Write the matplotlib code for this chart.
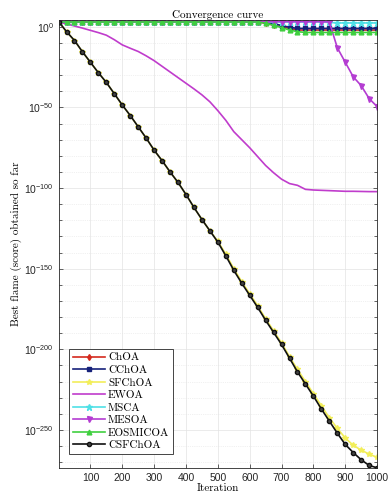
import matplotlib
matplotlib.use("Agg")
import matplotlib.pyplot as plt
from matplotlib.ticker import FixedLocator, LogFormatterSciNotation, NullFormatter
import numpy as np

plt.rcParams['font.family'] = ['Liberation Sans', 'DejaVu Sans']

# iteration at which each stored point (and marker) sits
iters = [1] + list(range(25, 1001, 25))

# best score per algorithm, stored as log10 values
choa = [3.0, 3.0, 3.0, 3.0, 3.0, 3.0, 3.0, 3.0, 3.0, 3.0, 3.0, 3.0, 3.0, 3.0,
        3.0, 3.0, 3.0, 3.0, 3.0, 3.0, 3.0, 3.0, 3.0, 3.0, 3.0, 3.0, 2.2, 1.0,
        0.0, -1.0, -2.0, -2.0, -2.0, -2.0, -2.0, -2.0, -2.0, -2.0, -2.0, -2.0, -2.0]
cchoa = [3.0, 3.0, 3.0, 3.0, 3.0, 3.0, 3.0, 3.0, 3.0, 3.0, 3.0, 3.0, 3.0, 3.0,
         3.0, 3.0, 3.0, 3.0, 3.0, 3.0, 3.0, 3.0, 3.0, 3.0, 3.0, 3.0, 2.8, 2.0,
         0.8, -0.3, -1.0, -1.0, -1.0, -1.0, -1.0, -1.0, -1.0, -1.0, -1.0, -1.0, -1.0]
sfchoa = [3, -3, -8.5, -15.5, -22, -28.5, -34.5, -41.5, -48.5, -55, -62, -69,
          -76.5, -83, -90, -96.5, -104, -112, -119.5, -126.5, -133, -141, -150,
          -158, -165.5, -173, -181, -188.5, -196, -204.5, -212.5, -220, -227.5,
          -235, -242.5, -249, -255, -259.5, -262.5, -265, -267]
ewoa = [3, 1.8, 0.5, -0.8, -2.2, -3.6, -5.2, -8, -11.2, -13.3, -15.3, -18, -21,
        -24.5, -28, -31.5, -35, -38.5, -42.2, -46.5, -52, -58, -65, -70, -75,
        -80.5, -86, -90.5, -94.5, -97.2, -98.3, -100.8, -101.2, -101.4, -101.6,
        -101.8, -102, -102, -102.1, -102.2, -102.2]
msca = [3.0, 3.0, 3.0, 3.0, 3.0, 3.0, 3.0, 3.0, 3.0, 3.0, 3.0, 3.0, 3.0, 3.0,
        3.0, 3.0, 3.0, 3.0, 3.0, 3.0, 3.0, 3.0, 3.0, 3.0, 3.0, 3.0, 3.0, 3.0,
        3.0, 3.0, 3.0, 3.0, 3.0, 3.0, 2.7, 2.4, 2.4, 2.4, 2.4, 2.4, 2.4]
mesoa = [3.2, 3.2, 3.2, 3.2, 3.2, 3.2, 3.2, 3.2, 3.2, 3.2, 3.2, 3.2, 3.2, 3.2,
         3.2, 3.2, 3.2, 3.2, 3.2, 3.2, 3.2, 3.2, 3.2, 3.2, 3.2, 3.2, 3.2, 3.2,
         3.2, 3.2, 3.2, 3.2, 3.2, 3.2, 3.0, -13, -22, -31, -36.5, -44.5, -49.5]
eosmicoa = [3.0, 3.0, 3.0, 3.0, 3.0, 3.0, 3.0, 3.0, 3.0, 3.0, 3.0, 3.0, 3.0,
            3.0, 3.0, 3.0, 3.0, 3.0, 3.0, 3.0, 3.0, 3.0, 3.0, 3.0, 3.0, 3.0,
            2.3, 1.0, -0.5, -2.0, -3.0, -3.5, -3.5, -3.5, -3.5, -3.5, -3.5,
            -3.5, -3.5, -3.5, -3.5]
csfchoa = [3, -3, -8.5, -15.5, -22, -28.5, -34.5, -41.5, -48.5, -55, -62, -69,
           -76.5, -83, -90, -96.5, -104, -112, -119.5, -126.5, -133.5, -142,
           -151, -159, -166.5, -174, -182, -189.5, -197, -205.5, -214, -221.5,
           -229, -237, -244.5, -252, -259, -264, -268.5, -272, -273.5]

names = ['ChOA', 'CChOA', 'SFChOA', 'EWOA', 'MSCA', 'MESOA', 'EOSMICOA', 'CSFChOA']
series = [choa, cchoa, sfchoa, ewoa, msca, mesoa, eosmicoa, csfchoa]
colors = ['#d42a1e', '#16217a', '#f2ee5a', '#c03ccc', '#4fe0e6', '#b43cd2', '#3fcf3f', '#111111']
markers = ['d', 's', '*', None, '*', 'v', '^', 'o']
msizes = [3.0, 2.6, 4.0, 0, 4.5, 3.6, 3.4, 3.0]

fig = plt.figure(figsize=(3.9, 4.97), dpi=100)
ax = fig.add_axes([0.151, 0.058, 0.816, 0.902])

for name, vals, c, m, ms in zip(names, series, colors, markers, msizes):
    y = 10.0 ** np.array(vals)
    if m is None:
        ax.plot(iters, y, color=c, lw=1.2, label=name)
    else:
        face = '#444444' if name == 'CSFChOA' else c
        ax.plot(iters, y, color=c, lw=1.2, marker=m, ms=ms,
                mfc=face, mec=c, label=name)

ax.set_yscale('log')
ax.set_xlim(1, 1000)
ax.set_ylim(10.0 ** -273.7, 10.0 ** 4.3)
ax.set_xticks(range(100, 1001, 100))
ax.yaxis.set_major_locator(FixedLocator(10.0 ** np.arange(-250, 1, 50)))
ax.yaxis.set_minor_locator(FixedLocator(10.0 ** np.arange(-270, 1, 10)))
ax.yaxis.set_major_formatter(LogFormatterSciNotation())
ax.yaxis.set_minor_formatter(NullFormatter())

ax.tick_params(which='both', direction='in', top=True, right=True,
               labelsize=7.5, labelcolor='#262626', color='#262626')
ax.tick_params(which='major', length=3, width=0.5)
ax.tick_params(which='minor', length=2, width=0.5)
for s in ax.spines.values():
    s.set_linewidth(0.6)
    s.set_color('#262626')

ax.grid(True, which='major', color='#e3e3e3', lw=0.5)
ax.grid(True, which='minor', axis='y', color='#e3e3e3', lw=0.5, ls=':')
ax.set_axisbelow(True)

serif = 'cmr10'
ax.set_title('Convergence curve', fontsize=8, family=serif, pad=1.5)
ax.set_xlabel('Iteration', fontsize=8, family=serif, labelpad=0)
ax.set_ylabel('Best flame (score) obtained so far', fontsize=8, family=serif, labelpad=2)

leg = ax.legend(loc='lower left', bbox_to_anchor=(0.015, 0.02),
                prop={'family': serif, 'size': 8}, handlelength=2.9,
                labelspacing=0.25, borderpad=0.3, handletextpad=0.3,
                fancybox=False, framealpha=1)
leg.get_frame().set_edgecolor('#262626')
leg.get_frame().set_linewidth(0.6)

fig.savefig('out.png', dpi=100)
